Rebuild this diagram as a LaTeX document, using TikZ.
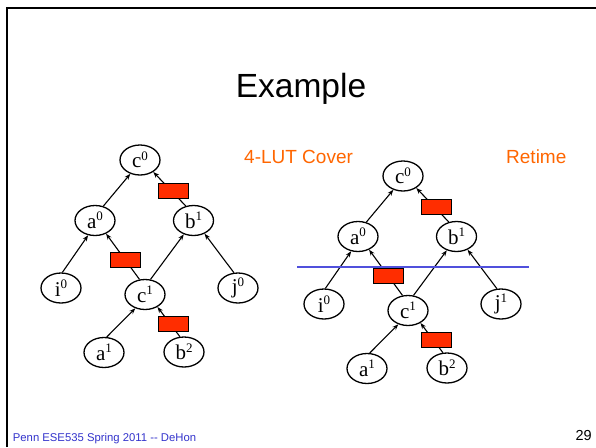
\documentclass[tikz,border=0pt]{standalone}
\usepackage{fontspec}
\setmainfont{Liberation Serif}
\setsansfont{Liberation Sans}
\usetikzlibrary{arrows.meta,shapes.geometric}
\definecolor{regred}{RGB}{255,45,0}
\definecolor{accent}{RGB}{255,102,0}
\definecolor{footblue}{RGB}{51,51,204}
\definecolor{cutblue}{RGB}{80,80,220}
% node label with a raised time index
\newcommand\lbl[2]{#1\raisebox{7.5pt}{\fontsize{13}{14}\selectfont #2}}
\begin{document}
\begin{tikzpicture}[x=1pt,y=-1pt,
  vertex/.style={draw, ellipse, line width=1.3pt, minimum width=40pt,
    minimum height=30pt, inner sep=0pt, font=\fontsize{21}{24}\selectfont},
  edge/.style={line width=1.1pt, -{Stealth[length=6pt,width=4.5pt]}},
  reg/.style={draw, fill=regred, line width=1.2pt, minimum width=30pt,
    minimum height=15pt, inner sep=0pt},
  caption/.style={font=\sffamily\fontsize{19}{22}\selectfont, text=accent,
    anchor=base west, inner sep=0pt}]
\useasboundingbox (0,0) rectangle (596,447);
\fill[white] (0,0) rectangle (596,447);
% slide frame
\draw[line width=2pt] (7,447) -- (7,8) -- (596,8);

% title and captions
\node[font=\sffamily\fontsize{33.5}{38}\selectfont, anchor=base, inner sep=0pt]
  (title) at (301,97) {Example};
\node[caption] (cover) at (244,163) {4-LUT Cover};
\node[caption] (retime) at (506,163) {Retime};

% left graph
\node[vertex] (Lc0) at (140,160) {\lbl{c}{0}};
\node[vertex] (La0) at (95,220.5) {\lbl{a}{0}};
\node[vertex] (Lb1) at (193.5,220.5) {\lbl{b}{1}};
\node[vertex] (Li0) at (61,288) {\lbl{i}{0}};
\node[vertex] (Lc1) at (145,294.5) {\lbl{c}{1}};
\node[vertex] (Lj0) at (238,288) {\lbl{j}{0}};
\node[vertex] (La1) at (104,352.5) {\lbl{a}{1}};
\node[vertex] (Lb2) at (184,352) {\lbl{b}{2}};

\draw[edge] (La0.60) -- (Lc0.-125);
\draw[edge] (Lb1.118) -- node[reg, pos=0.44, xshift=2pt] (Lr1) {} (Lc0.-42);
\draw[edge] (Li0.85) -- (La0.-115);
\draw[edge] (Lc1.110) -- node[reg, pos=0.42] (Lr2) {} (La0.-50);
\draw[edge] (Lc1.70) -- (Lb1.-125);
\draw[edge] (Lj0.105) -- (Lb1.-50);
\draw[edge] (La1.80) -- (Lc1.-125);
\draw[edge] (Lb2.105) -- node[reg, pos=0.42, xshift=3pt] (Lr3) {} (Lc1.-45);

% right graph
\begin{scope}[shift={(263,16)}]
\node[vertex] (Rc0) at (140,160) {\lbl{c}{0}};
\node[vertex] (Ra0) at (95,220.5) {\lbl{a}{0}};
\node[vertex] (Rb1) at (193.5,220.5) {\lbl{b}{1}};
\node[vertex] (Ri0) at (61,288) {\lbl{i}{0}};
\node[vertex] (Rc1) at (145,294.5) {\lbl{c}{1}};
\node[vertex] (Rj1) at (238,288) {\lbl{j}{1}};
\node[vertex] (Ra1) at (104,352.5) {\lbl{a}{1}};
\node[vertex] (Rb2) at (184,352) {\lbl{b}{2}};

\draw[edge] (Ra0.60) -- (Rc0.-125);
\draw[edge] (Rb1.118) -- node[reg, pos=0.44, xshift=2pt] (Rr1) {} (Rc0.-42);
\draw[edge] (Ri0.85) -- (Ra0.-115);
\draw[edge] (Rc1.110) -- node[reg, pos=0.42] (Rr2) {} (Ra0.-50);
\draw[edge] (Rc1.70) -- (Rb1.-125);
\draw[edge] (Rj1.105) -- (Rb1.-50);
\draw[edge] (Ra1.80) -- (Rc1.-125);
\draw[edge] (Rb2.105) -- node[reg, pos=0.42, xshift=3pt] (Rr3) {} (Rc1.-45);
\end{scope}

% retiming cut
\coordinate (cutL) at (297,267);
\coordinate (cutR) at (529,267);
\draw[cutblue, line width=1.3pt] (cutL) -- (cutR);

% footer
\node[font=\sffamily\fontsize{11.3}{13}\selectfont, text=footblue,
  anchor=base west, inner sep=0pt] (foot) at (12.7,441.5)
  {Penn ESE535 Spring 2011 -{}- DeHon};
\node[font=\sffamily\fontsize{14.5}{16}\selectfont, anchor=base east,
  inner sep=0pt] (page) at (592,440) {29};
\end{tikzpicture}
\end{document}
